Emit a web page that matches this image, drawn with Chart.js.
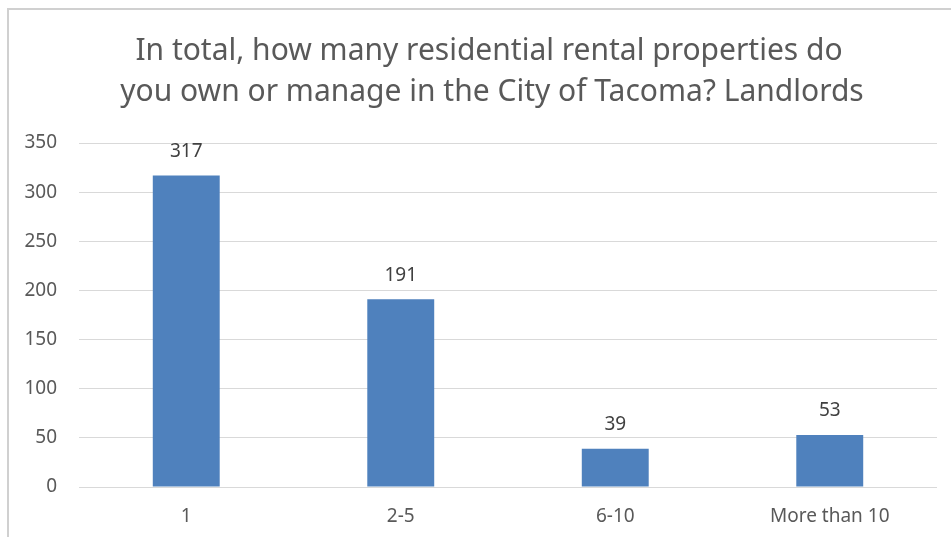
<!DOCTYPE html>
<html>
<head>
<meta charset="utf-8">
<script src="https://cdn.jsdelivr.net/npm/chart.js@4/dist/chart.umd.min.js"></script>
<style>
  html, body { margin: 0; padding: 0; background: #ffffff; overflow: hidden; }
  #wrap { position: relative; width: 951px; height: 537px; }
</style>
</head>
<body>
<div id="wrap"><canvas id="c" width="951" height="537"></canvas></div>
<script>
const categories = ["1", "2-5", "6-10", "More than 10"];
const counts = [317, 191, 39, 53];
const titleLines = ["In total, how many residential rental properties do", "you own or manage in the City of Tacoma? Landlords"];
const yTicks = [0, 50, 100, 150, 200, 250, 300, 350];

const FONT = "'Noto Sans', 'Open Sans', sans-serif";

const framePlugin = {
  id: 'frame',
  beforeDraw(chart) {
    const ctx = chart.ctx;
    ctx.save();
    ctx.fillStyle = '#ffffff';
    ctx.fillRect(0, 0, chart.width, chart.height);
    ctx.strokeStyle = '#d0d0d0';
    ctx.lineWidth = 2;
    ctx.strokeRect(8, 9, 1200, 800);
    ctx.restore();
  }
};

const titlePlugin = {
  id: 'customTitle',
  afterDraw(chart) {
    const ctx = chart.ctx;
    ctx.save();
    ctx.fillStyle = '#595959';
    ctx.font = "30px " + FONT;
    ctx.textAlign = 'center';
    ctx.textBaseline = 'alphabetic';
    ctx.fillText(titleLines[0], 489, 60);
    ctx.fillText(titleLines[1], 492, 101);
    ctx.restore();
  }
};

const labelPlugin = {
  id: 'barLabels',
  afterDatasetsDraw(chart) {
    const ctx = chart.ctx;
    const meta = chart.getDatasetMeta(0);
    ctx.save();
    ctx.fillStyle = '#404040';
    ctx.font = "19px " + FONT;
    ctx.textAlign = 'center';
    ctx.textBaseline = 'middle';
    meta.data.forEach((bar, i) => {
      ctx.fillText(String(counts[i]), bar.x, bar.y - 24);
    });
    ctx.restore();
  }
};

new Chart(document.getElementById('c'), {
  type: 'bar',
  data: {
    labels: categories,
    datasets: [{
      data: counts,
      backgroundColor: '#4F81BD',
      borderWidth: 0,
      categoryPercentage: 1.0,
      barPercentage: 0.312
    }]
  },
  options: {
    responsive: false,
    animation: false,
    devicePixelRatio: 1,
    layout: { padding: { top: 143, right: 14, bottom: 0, left: 0 } },
    plugins: {
      legend: { display: false },
      title: { display: false },
      tooltip: { enabled: false }
    },
    scales: {
      x: {
        grid: { display: false, drawTicks: false },
        border: { display: false },
        ticks: { color: '#595959', font: { family: FONT, size: 19 }, padding: 18 },
        afterFit(scale) { scale.height = 50; }
      },
      y: {
        min: 0,
        max: 350,
        afterBuildTicks(scale) { scale.ticks = yTicks.map(v => ({ value: v })); },
        grid: { color: '#d9d9d9', lineWidth: 1, drawTicks: false },
        border: { display: false },
        ticks: { color: '#595959', font: { family: FONT, size: 19 }, padding: 22 },
        afterFit(scale) { scale.width = 79; }
      }
    }
  },
  plugins: [framePlugin, titlePlugin, labelPlugin]
});
</script>
</body>
</html>
